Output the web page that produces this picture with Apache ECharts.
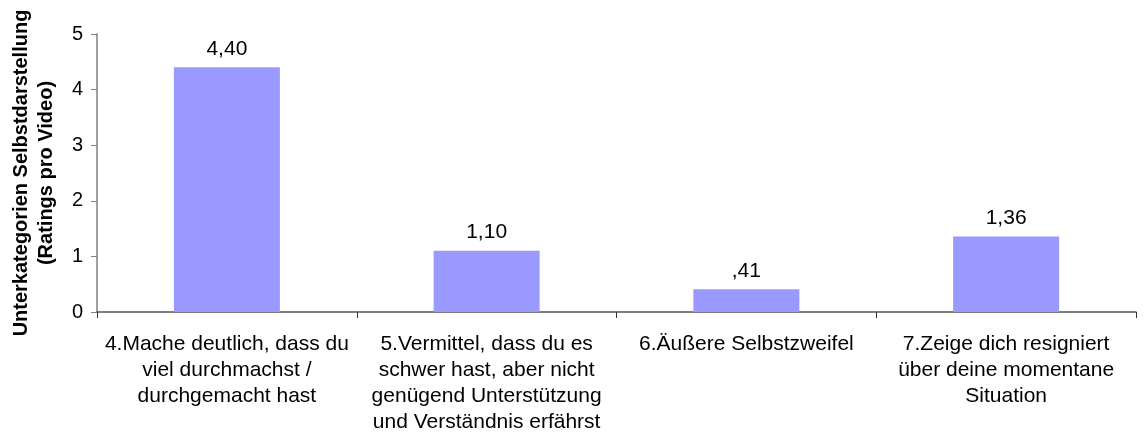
<!DOCTYPE html>
<html>
<head>
<meta charset="utf-8">
<script src="https://cdn.jsdelivr.net/npm/echarts@6/dist/echarts.min.js"></script>
<style>html,body{margin:0;padding:0;background:#fff}#c{width:1146px;height:441px}</style>
</head>
<body>
<div id="c"></div>
<script>
const categories = [
  "4.Mache deutlich, dass du\nviel durchmachst /\ndurchgemacht hast",
  "5.Vermittel, dass du es\nschwer hast, aber nicht\ngenügend Unterstützung\nund Verständnis erfährst",
  "6.Äußere Selbstzweifel",
  "7.Zeige dich resigniert\nüber deine momentane\nSituation"
];
const values = [4.40, 1.10, 0.41, 1.36];
const valueLabels = ["4,40", "1,10", ",41", "1,36"];
const yTicks = [0, 1, 2, 3, 4, 5];
const yName = "Unterkategorien Selbstdarstellung\n(Ratings pro Video)";

const FONT = 'Liberation Sans, Arial, sans-serif';
const chart = echarts.init(document.getElementById('c'), null, {renderer: 'canvas'});
chart.setOption({
  animation: false,
  backgroundColor: '#fff',
  grid: {left: 97, right: 10, top: 34, bottom: 129, containLabel: false, outerBoundsMode: 'none'},
  xAxis: {
    type: 'category',
    data: categories,
    axisLine: {lineStyle: {color: '#555', width: 1.5}},
    axisTick: {show: true, length: 6, lineStyle: {color: '#333'}},
    axisLabel: {
      color: '#000', fontFamily: FONT,
      fontSize: 21, lineHeight: 26, margin: 19, interval: 0
    }
  },
  yAxis: {
    type: 'value',
    min: yTicks[0], max: yTicks[yTicks.length - 1], interval: 1,
    name: yName,
    nameLocation: 'middle',
    nameGap: 38,
    nameTextStyle: {
      color: '#000', fontFamily: FONT,
      fontSize: 20, fontWeight: 'bold', lineHeight: 25
    },
    axisLine: {show: true, lineStyle: {color: '#808080', width: 1.5}},
    axisTick: {show: true, length: 6, lineStyle: {color: '#808080'}},
    axisLabel: {
      color: '#000', fontFamily: FONT,
      fontSize: 20, margin: 14
    },
    splitLine: {show: false}
  },
  series: [{
    type: 'bar',
    data: values,
    barWidth: 106,
    itemStyle: {color: '#9999FF'},
    label: {
      show: true, position: 'top', distance: 8,
      color: '#000', fontFamily: FONT, fontSize: 21,
      formatter: p => valueLabels[p.dataIndex]
    }
  }]
});
</script>
</body>
</html>
